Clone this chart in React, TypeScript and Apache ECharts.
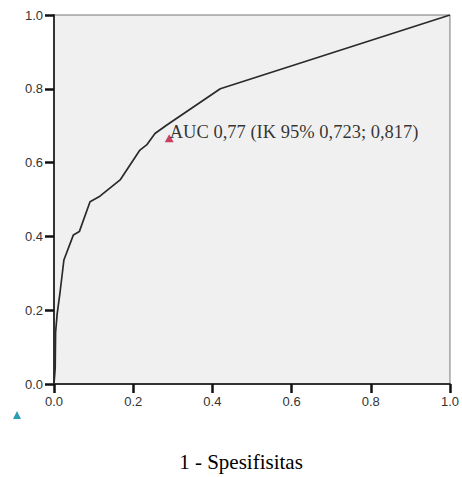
import React, { useEffect, useRef } from "react";
import * as echarts from "echarts";

// ROC curve points: [1 - specificity, sensitivity]
const rocX = [0, 0.003, 0.004, 0.008, 0.015, 0.025, 0.049, 0.064, 0.091, 0.116, 0.167, 0.217, 0.234, 0.255, 0.285, 0.42, 1];
const rocY = [0, 0.043, 0.14, 0.19, 0.246, 0.336, 0.404, 0.413, 0.494, 0.509, 0.553, 0.634, 0.648, 0.679, 0.702, 0.8, 1];

// AUC annotation point
const aucPoint = [0.291, 0.666];
const aucLabel = "AUC 0,77 (IK 95% 0,723; 0,817)";
const xTitle = "1 - Spesifisitas";

const SERIF = "'Liberation Serif', 'Times New Roman', serif";
const SANS = "'Liberation Sans', Arial, sans-serif";

export default function App() {
  const ref = useRef<HTMLDivElement>(null);
  useEffect(() => {
    if (!ref.current) return;
    const chart = echarts.init(ref.current, undefined, { renderer: "svg" });
    const roc = rocX.map((x, i) => [x, rocY[i]]);
    const axisCommon = {
      type: "value" as const,
      min: 0,
      max: 1,
      interval: 0.2,
      splitLine: { show: false },
      axisLine: { show: true, lineStyle: { color: "#333", width: 2 } },
      axisTick: { show: true, length: 9, lineStyle: { color: "#111", width: 2.5 } },
      axisLabel: {
        color: "#333",
        fontFamily: SANS,
        fontSize: 13,
        margin: 11,
        formatter: (v: number) => v.toFixed(1),
      },
    };
    chart.setOption({
      animation: false,
      grid: {
        left: 54,
        right: 12,
        top: 15,
        bottom: 93,
        show: true,
        backgroundColor: "#f0f0f0",
        borderColor: "#777",
        borderWidth: 1,
      },
      xAxis: {
        ...axisCommon,
        name: xTitle,
        nameLocation: "middle",
        nameGap: 67,
        nameTextStyle: {
          fontFamily: SERIF,
          fontSize: 21,
          color: "#000",
          padding: [0, 22, 0, 0],
        },
      },
      yAxis: { ...axisCommon },
      series: [
        {
          type: "line",
          data: roc,
          symbol: "none",
          lineStyle: { color: "#2a2a2a", width: 1.7 },
          silent: true,
        },
        {
          type: "scatter",
          data: [aucPoint],
          symbol: "triangle",
          symbolSize: [9, 8],
          itemStyle: { color: "#c0143c" },
          label: {
            show: true,
            formatter: aucLabel,
            position: [5, -12],
            align: "left",
            verticalAlign: "top",
            fontFamily: SERIF,
            fontSize: 18.5,
            color: "#000",
          },
          silent: true,
        },
      ],
      graphic: [
        {
          type: "polygon",
          shape: { points: [[17, 411], [13, 419], [21, 419]] },
          style: { fill: "#2a9fb4" },
          silent: true,
        },
      ],
    });
    return () => chart.dispose();
  }, []);
  return (
    <div
      ref={ref}
      style={{ position: "absolute", left: 0, top: 0, width: 462, height: 477 }}
    />
  );
}
